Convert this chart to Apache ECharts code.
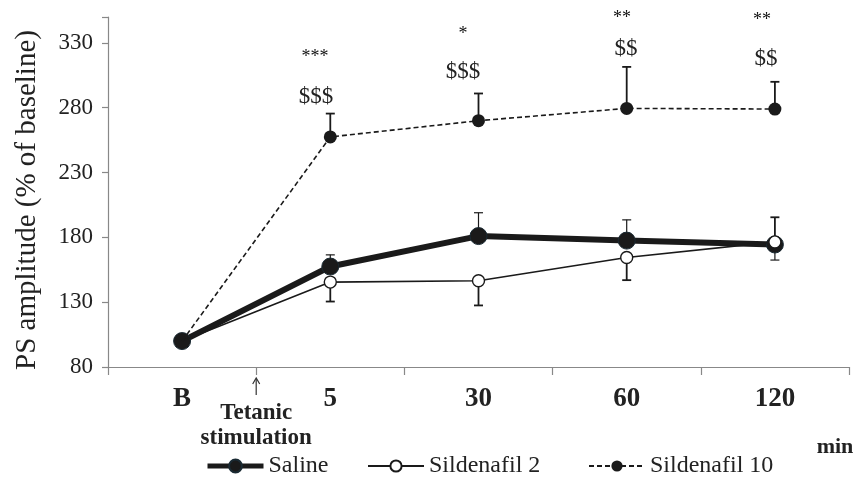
<!DOCTYPE html>
<html>
<head>
<meta charset="utf-8">
<script src="https://cdn.jsdelivr.net/npm/echarts@6/dist/echarts.min.js"></script>
<style>html,body{margin:0;padding:0;background:#fff;}#c{width:856px;height:488px;}</style>
</head>
<body>
<div id="c"></div>
<script>
const categories = ['B', '5', '30', '60', '120'];
const saline = [100, 157.5, 181, 177.5, 174.5];
const sild2 = [100, 145.5, 146.5, 164.5, 176.5];
const sild10 = [100, 257.5, 270, 279.5, 279];
// signed SEM (drawn in one direction only)
const salineErr = [0, 9, 18, 16, -12];
const sild2Err = [0, -15, -19, -17.5, 19];
const sild10Err = [0, 18, 21, 32, 21];
const yTicks = [80, 130, 180, 230, 280, 330];
const starLabels = ['', '***', '*', '**', '**'];
const dollarLabels = ['', '$$$', '$$$', '$$', '$$'];

const SERIF = '"Liberation Serif", "Times New Roman", serif';
const chart = echarts.init(document.getElementById('c'));

function errSeries(vals, errs, width, z) {
  return {
    type: 'custom', z: z, silent: true,
    encode: { x: 0, y: 1 },
    renderItem: function (params, api) {
      const e = api.value(2);
      if (!e) return null;
      const p0 = api.coord([api.value(0), api.value(1)]);
      const p1 = api.coord([api.value(0), api.value(1) + e]);
      const hw = 4.5;
      const st = { stroke: '#1a1a1a', lineWidth: width };
      return { type: 'group', children: [
        { type: 'line', shape: { x1: p0[0], y1: p0[1], x2: p1[0], y2: p1[1] }, style: st },
        { type: 'line', shape: { x1: p1[0] - hw, y1: p1[1], x2: p1[0] + hw, y2: p1[1] }, style: st }
      ]};
    },
    data: vals.map((v, i) => [i, v, errs[i]])
  };
}

const legendCommon = {
  bottom: 5, itemWidth: 56, itemHeight: 14,
  textStyle: { fontFamily: SERIF, fontSize: 24, color: '#222' }
};

chart.setOption({
  animation: false,
  grid: { left: 108, right: 7, top: 17, bottom: 121, outerBoundsMode: 'none', containLabel: false },
  legend: [
    Object.assign({}, legendCommon, { left: 200, itemHeight: 16, data: [{ name: 'Saline', lineStyle: { width: 5 } }] }),
    Object.assign({}, legendCommon, { left: 362, data: ['Sildenafil 2'] }),
    Object.assign({}, legendCommon, { left: 583, data: ['Sildenafil 10'] })
  ],
  xAxis: {
    type: 'category', data: categories, boundaryGap: true,
    axisLine: { lineStyle: { color: '#888', width: 1.2 } },
    axisTick: { show: true, length: 8, lineStyle: { color: '#888', width: 1.2 } },
    axisLabel: { margin: 19, fontFamily: SERIF, fontWeight: 'bold', fontSize: 27, color: '#222' },
    splitLine: { show: false }
  },
  yAxis: {
    type: 'value', min: 80, max: 350, interval: 50,
    name: 'PS amplitude (% of baseline)', nameLocation: 'middle', nameGap: 66, nameRotate: 90,
    nameTextStyle: { fontFamily: SERIF, fontSize: 29, color: '#222', padding: [0, 16, 0, 0] },
    axisLine: { show: true, lineStyle: { color: '#888', width: 1.2 } },
    axisTick: { show: true, length: 6, lineStyle: { color: '#888', width: 1.2 } },
    axisLabel: { margin: 15, fontFamily: SERIF, fontSize: 23, color: '#222',
      formatter: v => (yTicks.indexOf(v) >= 0 ? String(v) : '') },
    splitLine: { show: false }
  },
  series: [
    errSeries(saline, salineErr, 1.2, 1),
    errSeries(sild2, sild2Err, 1.8, 1),
    errSeries(sild10, sild10Err, 1.8, 1),
    {
      name: 'Saline', type: 'line', data: saline, z: 3,
      symbol: 'circle', symbolSize: 17,
      lineStyle: { color: '#1a1a1a', width: 6 },
      itemStyle: { color: '#1a1a1a', borderColor: '#1a2a33', borderWidth: 1 }
    },
    {
      name: 'Sildenafil 2', type: 'line', z: 4,
      data: sild2.map((v, i) => i === 0 ? { value: v, symbolSize: 0 } : v),
      symbol: 'circle', symbolSize: 12,
      lineStyle: { color: '#1a1a1a', width: 1.6 },
      itemStyle: { color: '#fff', borderColor: '#1a1a1a', borderWidth: 1.4 }
    },
    {
      name: 'Sildenafil 10', type: 'line', z: 5,
      data: sild10.map((v, i) => i === 0 ? { value: v, symbolSize: 0 } : v),
      symbol: 'circle', symbolSize: 13,
      lineStyle: { color: '#1a1a1a', width: 1.6, type: [5, 3] },
      itemStyle: { color: '#1a1a1a' }
    }
  ]
});

// annotations
const xc = categories.map((c, i) => chart.convertToPixel({ xAxisIndex: 0 }, i));
const starPos = [null, [315, 57], [463, 34], [622, 18], [762, 20]];
const dollarPos = [null, [316, 97], [463, 72], [626, 49], [766, 59]];
const g = [];
for (let i = 1; i < categories.length; i++) {
  g.push({ type: 'text', x: starPos[i][0], y: starPos[i][1], style: { text: starLabels[i], font: '18px ' + SERIF, fill: '#111', align: 'center', verticalAlign: 'middle' } });
  g.push({ type: 'text', x: dollarPos[i][0], y: dollarPos[i][1], style: { text: dollarLabels[i], font: '23px ' + SERIF, fill: '#222', align: 'center', verticalAlign: 'middle' } });
}
const tx = (xc[0] + xc[1]) / 2;
g.push({ type: 'line', shape: { x1: tx, y1: 379, x2: tx, y2: 395 }, style: { stroke: '#333', lineWidth: 1.2 } });
g.push({ type: 'polyline', shape: { points: [[tx - 3.5, 384], [tx, 378], [tx + 3.5, 384]] }, style: { stroke: '#333', lineWidth: 1.2, fill: null } });
g.push({ type: 'text', x: tx, y: 413, style: { text: 'Tetanic', font: 'bold 23px ' + SERIF, fill: '#222', align: 'center', verticalAlign: 'middle' } });
g.push({ type: 'text', x: tx, y: 438, style: { text: 'stimulation', font: 'bold 23px ' + SERIF, fill: '#222', align: 'center', verticalAlign: 'middle' } });
g.push({ type: 'text', x: 835, y: 447, style: { text: 'min', font: 'bold 22px ' + SERIF, fill: '#222', align: 'center', verticalAlign: 'middle' } });
chart.setOption({ graphic: g });
</script>
</body>
</html>
